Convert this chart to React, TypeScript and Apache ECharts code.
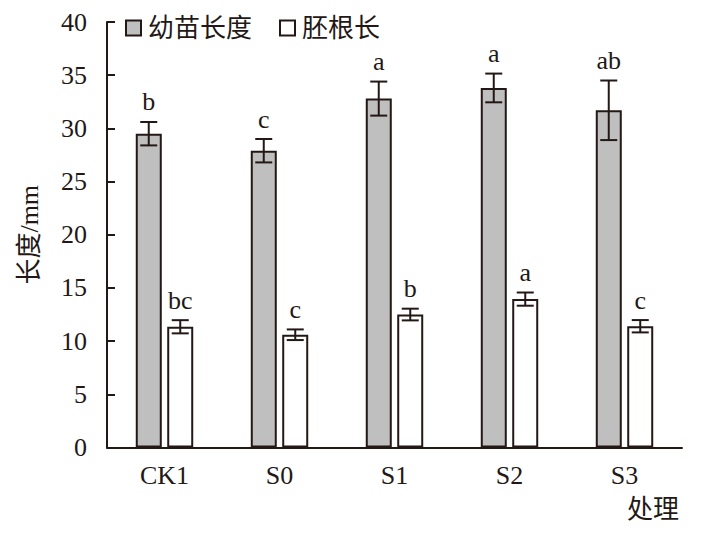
import React, { useEffect, useRef } from "react";
import * as echarts from "echarts";

const categories = ["CK1", "S0", "S1", "S2", "S3"];
const seedlingLength = [29.5, 27.9, 32.8, 33.8, 31.7];
const seedlingErr = [1.1, 1.1, 1.6, 1.35, 2.8];
const seedlingLetters = ["b", "c", "a", "a", "ab"];
const radicleLength = [11.35, 10.6, 12.5, 13.95, 11.4];
const radicleErr = [0.62, 0.5, 0.55, 0.62, 0.58];
const radicleLetters = ["bc", "c", "b", "a", "c"];
const yTicks = { min: 0, max: 40, interval: 5 };

const INK = "#231815";
const SERIF = "'Liberation Serif', 'Times New Roman', 'Noto Sans CJK SC', serif";

function errorSeries(values: number[], errs: number[], letters: string[], offset: number) {
  return {
    type: "custom",
    z: 10,
    silent: true,
    data: values.map((v, i) => [i, v, errs[i]]),
    encode: { x: 0, y: 1 },
    renderItem: (params: any, api: any) => {
      const i = api.value(0);
      const v = api.value(1);
      const e = api.value(2);
      const hi = api.coord([i, v + e]);
      const lo = api.coord([i, v - e]);
      const x = hi[0] + offset;
      const cap = 8.5;
      const ls = { stroke: INK, lineWidth: 2 };
      return {
        type: "group",
        children: [
          { type: "line", shape: { x1: x, y1: hi[1], x2: x, y2: lo[1] }, style: ls },
          { type: "line", shape: { x1: x - cap, y1: hi[1], x2: x + cap, y2: hi[1] }, style: ls },
          { type: "line", shape: { x1: x - cap, y1: lo[1], x2: x + cap, y2: lo[1] }, style: ls },
          {
            type: "text",
            x: x,
            y: hi[1] - 7,
            style: {
              text: letters[params.dataIndex],
              fill: INK,
              font: `26px ${SERIF}`,
              align: "center",
              verticalAlign: "bottom",
            },
          },
        ],
      };
    },
  };
}

export default function App() {
  const ref = useRef<HTMLDivElement>(null);
  useEffect(() => {
    if (!ref.current) return;
    const chart = echarts.init(ref.current, null, { renderer: "svg" });
    chart.setOption({
      animation: false,
      grid: { left: 107, right: 26, top: 22, bottom: 85.5, containLabel: false },
      legend: {
        data: ["幼苗长度", "胚根长"],
        left: 125,
        top: 15,
        padding: 0,
        icon: "rect",
        itemWidth: 15,
        itemHeight: 15,
        itemGap: 27,
        textStyle: { fontFamily: SERIF, fontSize: 26, color: INK, padding: [0, 0, 0, 2] },
      },
      xAxis: {
        type: "category",
        data: categories,
        axisLine: { lineStyle: { color: INK, width: 2 } },
        axisTick: { inside: true, length: 8, lineStyle: { color: INK, width: 2 } },
        axisLabel: { fontFamily: SERIF, fontSize: 26, color: INK, margin: 15 },
      },
      yAxis: {
        type: "value",
        min: yTicks.min,
        max: yTicks.max,
        interval: yTicks.interval,
        name: "长度/mm",
        nameLocation: "middle",
        nameGap: 65,
        nameTextStyle: { fontFamily: SERIF, fontSize: 26, color: INK },
        axisLine: { show: true, lineStyle: { color: INK, width: 2 } },
        axisTick: { show: true, inside: true, length: 8, lineStyle: { color: INK, width: 2 } },
        axisLabel: { fontFamily: SERIF, fontSize: 26, color: INK, margin: 20 },
        splitLine: { show: false },
      },
      graphic: [
        {
          type: "text",
          right: 29,
          top: 496,
          style: { text: "处理", font: `26px ${SERIF}`, fill: INK },
        },
      ],
      series: [
        {
          name: "幼苗长度",
          type: "bar",
          data: seedlingLength,
          barWidth: 26,
          barGap: "21%",
          itemStyle: { color: "#c0bfbf", borderColor: INK, borderWidth: 2 },
        },
        {
          name: "胚根长",
          type: "bar",
          data: radicleLength,
          barWidth: 26,
          barGap: "21%",
          itemStyle: { color: "#ffffff", borderColor: INK, borderWidth: 2 },
        },
        errorSeries(seedlingLength, seedlingErr, seedlingLetters, -15.75),
        errorSeries(radicleLength, radicleErr, radicleLetters, 15.75),
      ],
    });
    return () => chart.dispose();
  }, []);
  return (
    <div
      ref={ref}
      style={{ position: "absolute", left: 0, top: 0, width: 708, height: 533, background: "#fff" }}
    />
  );
}
